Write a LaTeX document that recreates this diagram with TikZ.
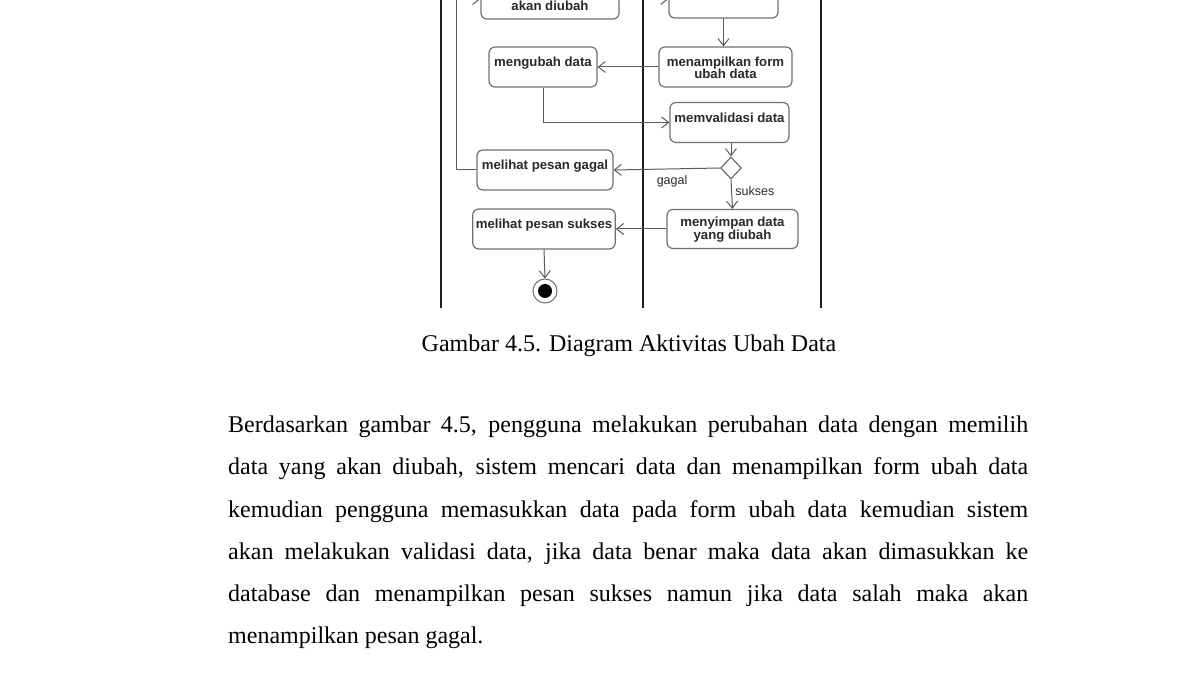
\documentclass[tikz,border=0pt]{standalone}
\usepackage{fontspec}
\setmainfont{Liberation Serif}
\newfontfamily\umlfont{Liberation Sans}
\usetikzlibrary{arrows.meta,shapes.geometric}

\definecolor{garis}{HTML}{5A5A5A}
\definecolor{tepi}{HTML}{707070}
\definecolor{tulisan}{HTML}{2A2A2A}
\definecolor{jalur}{HTML}{1E1E1E}

\begin{document}
\begin{tikzpicture}[
        x=1pt, y=-1pt,
        >={Straight Barb[length=7pt,width=11pt]},
        aktivitas/.style={draw=tepi, line width=1.2pt, rounded corners=6pt,
            fill=white, text=tulisan, align=center, inner xsep=3pt,
            font=\umlfont\bfseries\fontsize{13.2}{12.5}\selectfont,
            minimum height=40pt},
        satubaris/.style={text height=12pt, text depth=12pt, inner ysep=8pt},
        alur/.style={->, draw=garis, line width=1pt},
        ket/.style={font=\umlfont\fontsize{12.5}{14}\selectfont, text=tulisan},
        badan/.style={font=\fontsize{24}{42}\selectfont, anchor=base west,
            inner sep=0pt}
    ]

        \useasboundingbox (0,0) rectangle (1200,700);
        \clip (0,0) rectangle (1200,700);

        % Jalur (swimlane)
        \foreach \x/\w in {441/2.6, 643/1.8, 821/1.8}
            \draw[jalur, line width=\w pt] (\x,-10) -- (\x,308);

        % Aktivitas pengguna
        \node[aktivitas, minimum width=138pt, text height=24pt, text depth=0pt,
            inner ysep=8pt] (pilih) at (550,-1) {akan diubah};
        \node[aktivitas, satubaris, minimum width=108pt] (ubah) at (543,67)
            {mengubah data};
        \node[aktivitas, satubaris, minimum width=136pt, minimum height=38pt]
            (lihatgagal) at (545,170) {melihat pesan gagal};
        \node[aktivitas, satubaris, minimum width=142pt] (lihatsukses)
            at (544,229) {melihat pesan sukses};

        % Aktivitas sistem
        \node[aktivitas, minimum width=109pt] (cari) at (723.5,-2) {};
        \node[aktivitas, minimum width=133pt, yshift=0pt] (form) at (725.5,67)
            {\rule{0pt}{11pt}menampilkan form\\ubah data};
        \node[aktivitas, satubaris, minimum width=119pt, minimum height=39pt]
            (validasi) at (729.5,122.5) {memvalidasi data};
        \node[aktivitas, minimum width=131pt, minimum height=39pt] (simpan)
            at (732.5,229) {\rule{0pt}{11pt}menyimpan data\\yang diubah};

        % Keputusan
        \node[diamond, draw=tepi, line width=1.2pt, fill=white, inner sep=0pt,
            minimum width=21pt, minimum height=22pt] (pilihan) at (731,168) {};

        % Akhir
        \node[circle, draw=tepi, line width=1pt, fill=white,
            minimum size=24pt, inner sep=0pt] (akhir) at (545,291) {};
        \fill[black] (akhir.center) circle (7pt);

        % Alur
        \draw[alur] (pilih.east) -- (pilih.east -| cari.west);
        \draw[alur] (cari.south) -- (cari.south |- form.north);
        \draw[alur] (form.west) -- (ubah.east);
        \draw[alur] (ubah.south) |- (validasi.west);
        \draw[alur] (validasi.south -| pilihan.north) -- (pilihan.north);
        \draw[alur] (pilihan.west) --
            node[ket, below, pos=0.45, yshift=-3pt] {gagal} (lihatgagal.east);
        \draw[alur] (pilihan.south) --
            node[ket, right, pos=0.4] {sukses} (simpan.north);
        \draw[alur] (simpan.west) -- (lihatsukses.east);
        \draw[alur] (lihatsukses.south) -- (akhir.north);
        \draw[alur] (lihatgagal.west) -- ++(-20,0) |- (pilih.west);

        % Keterangan gambar
        \node[font=\fontsize{24}{28}\selectfont, anchor=base, inner sep=0pt]
            (judul) at (629,351.5) {Gambar 4.5. Diagram Aktivitas Ubah Data};

        % Paragraf
        \foreach \teks [count=\i] in {
            {Berdasarkan gambar 4.5, pengguna melakukan perubahan data dengan memilih},
            {data yang akan diubah, sistem mencari data dan menampilkan form ubah data},
            {kemudian pengguna memasukkan data pada form ubah data kemudian sistem},
            {akan melakukan validasi data, jika data benar maka data akan dimasukkan ke},
            {database dan menampilkan pesan sukses namun jika data salah maka akan}}
            \node[badan] (baris\i) at (228,{391+42*\i}) {\makebox[800pt][s]{\teks}};
        \node[badan] (baris6) at (228,643) {menampilkan pesan gagal.};

    \end{tikzpicture}
\end{document}
